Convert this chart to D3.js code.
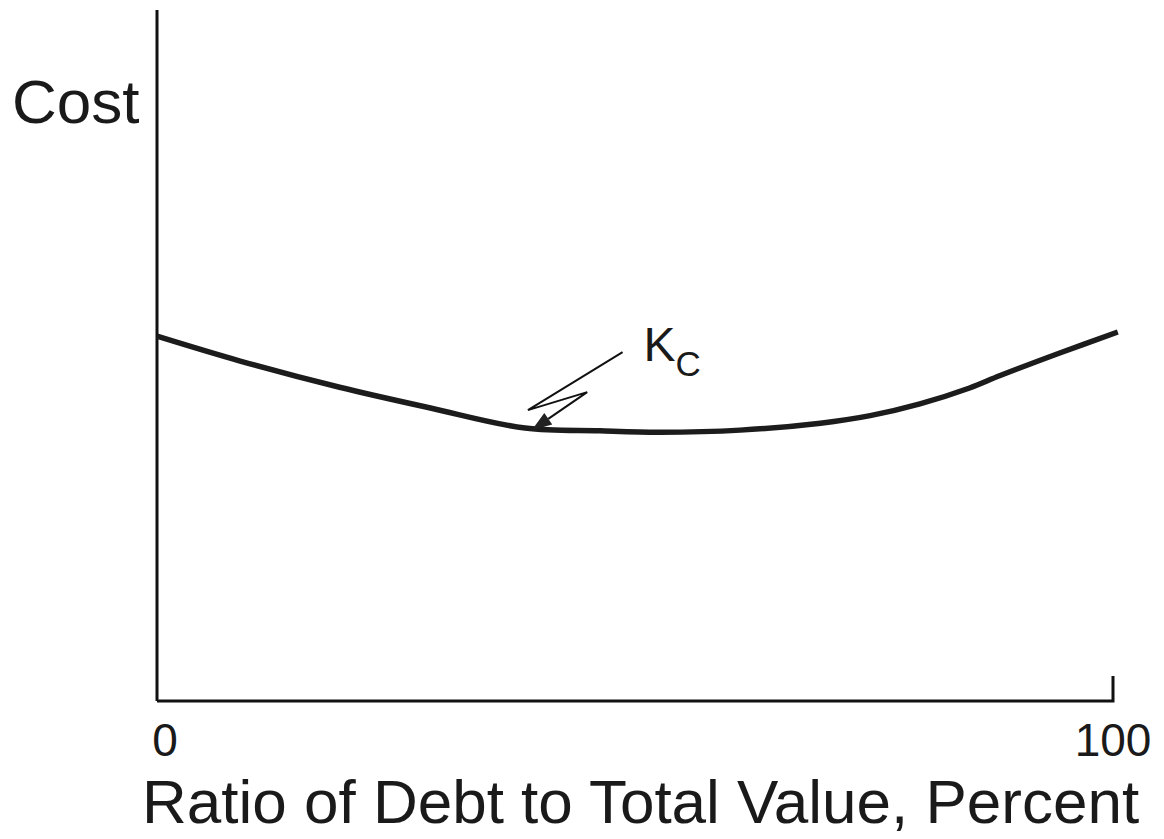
<html>
<head>
<style>
  body { margin: 0; background: #fff; }
  text { font-family: "Liberation Sans", Arial, sans-serif; fill: #1a1a1a; }
</style>
</head>

<body>
  <svg id="svg" width="1164" height="839"></svg>

  <script src="https://cdn.jsdelivr.net/npm/d3@7"></script>
  <script type="text/javascript">
  // debt ratio (%) vs cost
  const ratio = [0, 8.7, 19.1, 28.6, 38.5, 46.3, 52.6, 61.0, 69.4, 74.6, 79.8, 85.0, 88.2, 94.5, 100.5];
  const cost  = [52.8, 49.2, 45.4, 42.4, 39.5, 39.1, 38.9, 39.2, 40.2, 41.3, 43.0, 45.3, 47.1, 50.4, 53.4];
  const xTicks = [0, 100];
  const curveLabel = ["K", "C"];
  // lightning-arrow pointing at the curve, in data units
  const arrowPts = [[48.7, 50.5], [38.8, 42.1], [45.0, 44.7], [39.2, 39.2]];

  const svg = d3.select("#svg");
  const x = d3.scaleLinear().domain([0, 100]).range([157, 1113]);
  const y = d3.scaleLinear().domain([0, 100]).range([701, 10]);

  // axes
  svg.append("line")
    .attr("x1", x(0)).attr("x2", x(0))
    .attr("y1", y(100)).attr("y2", y(0))
    .style("stroke", "#111").style("stroke-width", 3);
  svg.append("path")
    .attr("d", d3.line()([[x(0), y(0)], [x(100), y(0)], [x(100), y(0) - 25]]))
    .style("fill", "none").style("stroke", "#111").style("stroke-width", 3);

  svg.selectAll("text.tick").data(xTicks).enter().append("text")
    .attr("class", "tick")
    .attr("x", d => x(d) + (d == 0 ? 8 : 0))
    .attr("y", 756)
    .attr("text-anchor", "middle")
    .style("font-size", "46px")
    .text(d => d);

  svg.append("text")
    .attr("x", 142).attr("y", 823)
    .style("font-size", "62px")
    .text("Ratio of Debt to Total Value, Percent");

  svg.append("text")
    .attr("x", 12).attr("y", 123)
    .style("font-size", "62px")
    .text("Cost");

  // cost curve
  const pts = ratio.map((r, i) => [x(r), y(cost[i])]);
  svg.append("path")
    .attr("d", d3.line().curve(d3.curveCatmullRom.alpha(0.5))(pts))
    .style("fill", "none").style("stroke", "#1c1c1c").style("stroke-width", 5.5)
    .style("stroke-linecap", "butt");

  // annotation
  const ap = arrowPts.map(p => [x(p[0]), y(p[1])]);
  const tip = ap[3], from = ap[2];
  const dx = tip[0] - from[0], dy = tip[1] - from[1];
  const len = Math.sqrt(dx * dx + dy * dy);
  const ux = dx / len, uy = dy / len;
  const hl = 20, hw = 7;
  const base = [tip[0] - ux * hl, tip[1] - uy * hl];
  svg.append("path")
    .attr("d", d3.line()([ap[0], ap[1], ap[2], base]))
    .style("fill", "none").style("stroke", "#111").style("stroke-width", 2);
  svg.append("path")
    .attr("d", d3.line()([tip, [base[0] - uy * hw, base[1] + ux * hw], [base[0] + uy * hw, base[1] - ux * hw]]) + "Z")
    .style("fill", "#222");

  const lab = svg.append("text")
    .attr("x", x(50.9)).attr("y", y(49.2))
    .style("font-size", "48px");
  lab.append("tspan").text(curveLabel[0]);
  lab.append("tspan").attr("dy", 15).style("font-size", "35px").text(curveLabel[1]);
  </script>
</body>
</html>
